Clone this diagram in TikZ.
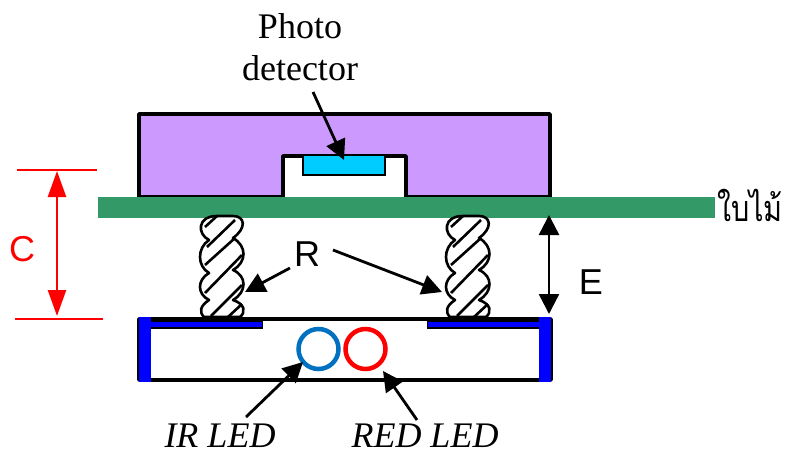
\documentclass[tikz,border=0pt]{standalone}
\usepackage{fontspec}
\setmainfont{Liberation Serif}
\setsansfont{Liberation Sans}
\newfontfamily\thaifont[Script=Thai]{Loma}
\usetikzlibrary{arrows.meta}
\definecolor{leafgreen}{HTML}{339966}
\definecolor{sensorpurple}{HTML}{CC99FF}
\definecolor{sensorcyan}{HTML}{00CCFF}
\definecolor{irblue}{HTML}{0070C0}
\tikzset{
	body/.style={draw,line width=3.5pt,line join=round},
	wall/.style={fill=blue,draw=none},
	led/.style={circle,draw=#1,line width=4.5pt,minimum size=40pt,inner sep=0pt},
	lbl/.style={font=\fontsize{36}{42}\selectfont,inner sep=0pt},
	slbl/.style={font=\fontsize{36}{42}\selectfont\sffamily,inner sep=0pt},
	blk/.style={line width=2.8pt,-{Triangle[length=20pt,width=20pt]}},
	dblred/.style={line width=2.5pt,{Triangle[length=26pt,width=18pt]}-{Triangle[length=26pt,width=18pt]}},
	dblblk/.style={line width=2.5pt,{Triangle[length=20pt,width=20pt]}-{Triangle[length=20pt,width=20pt]}},
	coil/.pic={
		\draw [line width=2.6pt,line join=round,fill=white]
			(16,0) -- (32,0)
			.. controls (44,0) and (46,12) .. (32,22)
			.. controls (46,30) and (46,46) .. (32,54)
			.. controls (46,60) and (46,76) .. (32,84)
			.. controls (44,88) and (45,96) .. (39,101)
			-- (3,101)
			.. controls (-2,96) and (-1,90) .. (8,84)
			.. controls (-4,78) and (-4,64) .. (8,57)
			.. controls (-4,50) and (-4,32) .. (8,24)
			.. controls (-4,18) and (-4,0) .. (16,0);
		\draw [line width=2.6pt]
			(4,11) -- (16,0)
			(6,31) -- (34,4)
			(4,49) -- (34,22)
			(4,77) -- (41,39)
			(10,100) -- (41,69)
			(27,101) -- (41,88);
	}
}
\begin{document}
\begin{tikzpicture}[x=1pt,y=-1pt]
	\useasboundingbox (0,0) rectangle (785,455);

	\draw [body,fill=sensorpurple] (139,197) -- (139,114) -- (550,114) -- (550,197) -- (406,197) -- (406,156) -- (283,156) -- (283,197) -- cycle;
	\node (detector) [draw,line width=1.2pt,fill=sensorcyan,minimum width=82pt,minimum height=20pt,inner sep=0pt] at (344,165) {};
	\node (leaf) [fill=leafgreen,minimum width=617pt,minimum height=21pt,inner sep=0pt] at (406.5,207.5) {};

	\pic at (201,216) {coil};
	\pic at (447,216) {coil};

	\draw [line width=3.5pt,line join=round] (139,319) rectangle (551,380);
	\fill [black] (150,320) rectangle (263,329);
	\fill [black] (427,320) rectangle (539,329);
	\fill [blue] (150,322) rectangle (262,327);
	\fill [blue] (428,322) rectangle (539,327);
	\node (wallL) [wall,minimum width=12pt,minimum height=65pt,inner sep=0pt] at (144.5,349.5) {};
	\node (wallR) [wall,minimum width=12pt,minimum height=65pt,inner sep=0pt] at (545,349.5) {};

	\node (ir) [led=irblue] at (318.5,349) {};
	\node (red) [led=red] at (365.5,349) {};

	\node (photo) [lbl,align=center,anchor=north] at (300,13) {Photo\\detector};
	\node (thai) [lbl,anchor=base west,xscale=.8,transform shape] at (717,221) {\thaifont ใบไม้};
	\node (irtxt) [lbl,anchor=base] at (220,447) {\itshape IR LED};
	\node (redtxt) [lbl,anchor=base] at (425,447) {\itshape RED LED};
	\node (labelC) [slbl,text=red] at (22,249) {C};
	\node (labelE) [slbl] at (591,282) {E};
	\node (labelR) [slbl] at (307,254) {R};

	\coordinate (photoS) at (313,92);
	\coordinate (photoT) at (344,160);
	\coordinate (rLS) at (290,268);
	\coordinate (rLT) at (245,292);
	\coordinate (rRS) at (333,250);
	\coordinate (rRT) at (442,292);
	\coordinate (irS) at (246,417);
	\coordinate (irT) at (303,362);
	\coordinate (redS) at (417,420);
	\coordinate (redT) at (383,371);
	\coordinate (cTL) at (17,170);
	\coordinate (cTR) at (97,170);
	\coordinate (cBL) at (15,319);
	\coordinate (cBR) at (103,319);
	\coordinate (cT) at (57,171);
	\coordinate (cB) at (57,316);
	\coordinate (eT) at (549,215);
	\coordinate (eB) at (549,314);

	\draw [blk] (photoS) -- (photoT);
	\draw [blk] (rLS) -- (rLT);
	\draw [blk] (rRS) -- (rRT);
	\draw [blk] (irS) -- (irT);
	\draw [blk] (redS) -- (redT);
	\draw [red,line width=2pt] (cTL) -- (cTR);
	\draw [red,line width=2pt] (cBL) -- (cBR);
	\draw [dblred,red] (cT) -- (cB);
	\draw [dblblk] (eT) -- (eB);
\end{tikzpicture}
\end{document}
